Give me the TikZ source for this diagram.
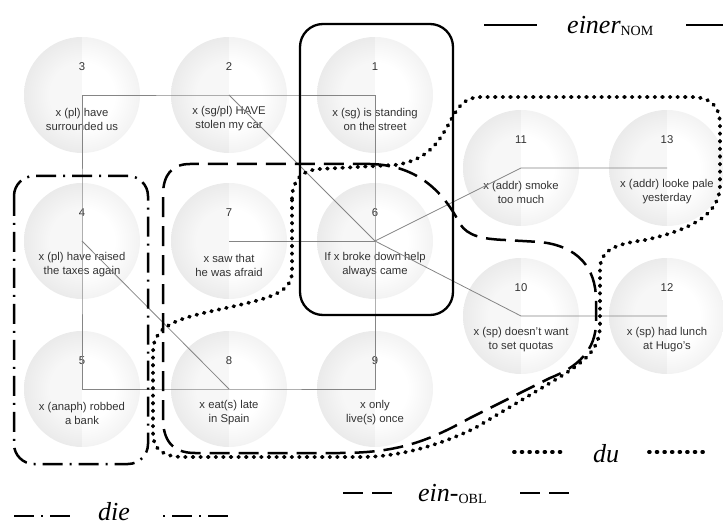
\documentclass[tikz,border=0pt]{standalone}
\usepackage{fontspec}
\setmainfont{Liberation Sans}
\newfontfamily\legendfont{Liberation Serif}
\usetikzlibrary{calc}

\definecolor{txtgray}{HTML}{333333}
\definecolor{linkgray}{HTML}{858585}
\pgfdeclareradialshading{ballshade}{\pgfpoint{0bp}{0bp}}{color(0bp)=(white); color(14bp)=(white); color(50bp)=(gray!32)}

% one shaded ball with its number above and a two-line caption below
\newcommand\placeball[5]{%
  \node[ball] (n#1) at (#2,#3) {};
  \node[numlbl] (n#1num) at ($(n#1)+(0,-28)$) {#1};
  \node[txtlbl] (n#1txt) at ($(n#1)+(0,24)$) {#4\\#5};
}
% small upright case marker set below the baseline
\newcommand\casemark[1]{\raisebox{-2pt}{\fontsize{14}{14}\selectfont\upshape #1}}

\begin{document}
\begin{tikzpicture}[x=1pt,y=-1pt,
  ball/.style={circle, minimum size=116pt, inner sep=0pt, shading=ballshade,
    path picture={\fill[black,opacity=0.03] (path picture bounding box.north west) rectangle (path picture bounding box.south);}},
  numlbl/.style={inner sep=0pt, font=\fontsize{11.3}{14}\selectfont, text=txtgray},
  txtlbl/.style={inner sep=0pt, align=center, font=\fontsize{11.3}{14}\selectfont, text=txtgray},
  link/.style={draw=linkgray, line width=0.8pt},
  nomline/.style={line width=2.3pt},
  oblline/.style={line width=2.5pt, dash pattern=on 20pt off 9pt},
  duline/.style={line width=3.8pt, line cap=round, dash pattern=on 0.8pt off 6.8pt},
  dieline/.style={line width=2.5pt, dash pattern=on 20pt off 7pt on 2pt off 7pt},
  legend/.style={inner sep=0pt, font=\legendfont\fontsize{26}{26}\selectfont\itshape}
]
\useasboundingbox (0,0) rectangle (723,526);

% balls
\placeball{3}{82}{95}{x (pl) have}{surrounded us}
\placeball{2}{229}{95}{x (sg/pl) HAVE}{stolen my car}
\placeball{1}{375}{95}{x (sg) is standing}{on the street}
\placeball{4}{82}{241}{x (pl) have raised}{the taxes again}
\placeball{7}{229}{241}{x saw that}{he was afraid}
\placeball{6}{375}{241}{If x broke down help}{always came}
\placeball{5}{82}{389}{x (anaph) robbed}{a bank}
\placeball{8}{229}{389}{x eat(s) late}{in Spain}
\placeball{9}{375}{389}{x only}{live(s) once}
\placeball{11}{521}{168}{x (addr) smoke}{too much}
\placeball{13}{667}{168}{x (addr) looke pale}{yesterday}
\placeball{10}{521}{316}{x (sp) doesn't want}{to set quotas}
\placeball{12}{667}{316}{x (sp) had lunch}{at Hugo's}

% links between ball centres
\draw[link] (n3.center) -- (n2.center) -- (n1.center) -- (n6.center) -- (n9.center)
  -- (n8.center) -- (n5.center) -- (n4.center) -- (n3.center);
\draw[link] (n2.center) -- (n6.center);
\draw[link] (n4.center) -- (n8.center);
\draw[link] (n7.center) -- (n6.center);
\draw[link] (n6.center) -- (n11.center) -- (n13.center);
\draw[link] (n6.center) -- (n10.center) -- (n12.center);

% einer (nominative): solid box
\draw[nomline, rounded corners=23pt] (300,24) rectangle (453,315);

% die: dash-dot box
\draw[dieline, rounded corners=20pt] (14,176) rectangle (148,464);

% ein- (oblique): dashed region
\draw[oblline] (370,164) .. controls (420,165) and (445,195) .. (460,224)
  .. controls (468,236) and (482,239) .. (505,240) -- (540,242)
  .. controls (578,246) and (596,268) .. (596,300) -- (596,322)
  .. controls (596,350) and (578,367) .. (550,378) -- (470,418)
  .. controls (430,440) and (400,453) .. (340,453) -- (195,453)
  .. controls (172,453) and (163,440) .. (163,418) -- (163,195)
  .. controls (163,175) and (172,164) .. (190,164) -- cycle;

% du: dotted region
\draw[duline] (292,200) -- (292,272) .. controls (292,292) and (270,298) .. (235,306)
  .. controls (185,317) and (153,322) .. (153,352) -- (153,432)
  .. controls (153,450) and (163,457) .. (185,457) -- (360,457)
  .. controls (400,457) and (440,445) .. (475,428) -- (550,383)
  .. controls (585,362) and (600,350) .. (600,325) -- (600,270)
  .. controls (600,250) and (615,244) .. (645,240)
  .. controls (690,230) and (720,215) .. (720,185) -- (720,125)
  .. controls (720,105) and (710,97) .. (690,97) -- (482,97)
  .. controls (466,97) and (460,104) .. (452,118)
  .. controls (440,140) and (430,160) .. (395,165) -- (320,169)
  .. controls (300,170) and (292,182) .. (292,200) -- cycle;

% legend
\node[legend, anchor=base west] (lnom) at (567,34) {einer\casemark{NOM}};
\coordinate (nomA) at (484,25); \coordinate (nomB) at (537,25);
\coordinate (nomC) at (686,25); \coordinate (nomD) at (724,25);
\draw[nomline] (nomA) -- (nomB);
\draw[nomline] (nomC) -- (nomD);

\node[legend, anchor=base west] (ldu) at (593,462) {du};
\coordinate (duA) at (514,452); \coordinate (duB) at (565,452);
\coordinate (duC) at (649,452); \coordinate (duD) at (708,452);
\draw[duline] (duA) -- (duB);
\draw[duline] (duC) -- (duD);

\node[legend, anchor=base west] (lobl) at (418,501) {ein-\casemark{OBL}};
\coordinate (oblA) at (343,493); \coordinate (oblB) at (392,493);
\coordinate (oblC) at (520,493); \coordinate (oblD) at (571,493);
\draw[oblline] (oblA) -- (oblB);
\draw[oblline] (oblC) -- (oblD);

\node[legend, anchor=base west] (ldie) at (98,520) {die};
\coordinate (dieA) at (14,516); \coordinate (dieB) at (70,516);
\coordinate (dieC) at (161,516); \coordinate (dieD) at (232,516);
\draw[dieline] (dieA) -- (dieB);
\draw[dieline, dash phase=25pt] (dieC) -- (dieD);
\end{tikzpicture}
\end{document}
